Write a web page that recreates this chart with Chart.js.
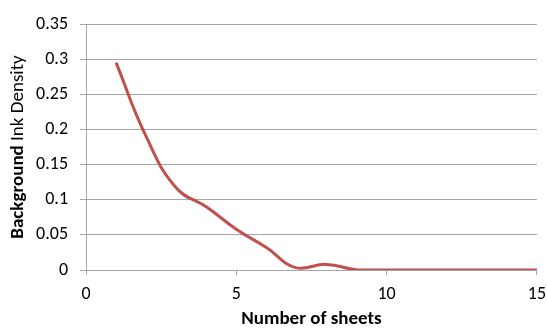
<!DOCTYPE html>
<html lang="en">
<head>
  <meta charset="UTF-8">
  <title>Background Ink Density</title>
  <script src="https://cdn.jsdelivr.net/npm/chart.js"></script>
  <style>
    body { margin: 0; background: #fff; overflow: hidden; }
  </style>
</head>
<body>
  <!-- a bit wider than the window so the plot can run right up to the "15" label -->
  <canvas id="chart" width="555" height="331"></canvas>
  <script>
    const sheets = [1, 2, 3, 4, 5, 6, 7, 8, 9, 10, 11, 12, 13, 14, 15];
    const density = [0.295, 0.19, 0.117, 0.09, 0.058, 0.032, 0.003, 0.008, 0.0005, 0, 0, 0, 0, 0, 0];
    const xTicks = [0, 5, 10, 15];
    const yTitleBold = 'Background';
    const yTitleRest = ' Ink Density';

    const font = "Carlito, Lato, 'Liberation Sans', sans-serif";
    const gridColor = '#a6a6a6';

    // y title has a bold word and a normal part, so draw it by hand
    const yTitle = {
      id: 'yTitle',
      afterDraw(chart) {
        const ctx = chart.ctx;
        const area = chart.chartArea;
        ctx.save();
        ctx.translate(18, (area.top + area.bottom) / 2);
        ctx.rotate(-Math.PI / 2);
        ctx.fillStyle = '#000';
        ctx.textBaseline = 'middle';
        ctx.font = 'bold 19px ' + font;
        const w1 = ctx.measureText(yTitleBold).width;
        ctx.font = '19px ' + font;
        const w2 = ctx.measureText(yTitleRest).width;
        let x = -(w1 + w2) / 2;
        ctx.font = 'bold 19px ' + font;
        ctx.fillText(yTitleBold, x, 0);
        ctx.font = '19px ' + font;
        ctx.fillText(yTitleRest, x + w1, 0);
        ctx.restore();
      }
    };

    new Chart(document.getElementById('chart'), {
      type: 'line',
      data: {
        datasets: [{
          data: sheets.map((s, i) => ({ x: s, y: density[i] })),
          borderColor: '#c0504d',
          borderWidth: 3,
          pointRadius: 0,
          tension: 0.45,
          fill: false
        }]
      },
      options: {
        responsive: false,
        animation: false,
        devicePixelRatio: 1,
        layout: { padding: { top: 24, right: 0, left: 0, bottom: 0 } },
        plugins: { legend: { display: false }, tooltip: { enabled: false } },
        scales: {
          x: {
            type: 'linear',
            min: 0,
            max: 15,
            afterBuildTicks(scale) { scale.ticks = xTicks.map(v => ({ value: v })); },
            afterFit(scale) { scale.height = 61; },
            grid: { drawOnChartArea: false, color: gridColor, tickLength: 5 },
            border: { color: gridColor },
            ticks: { color: '#000', font: { family: font, size: 18 }, padding: 9, maxRotation: 0 },
            title: { display: true, text: 'Number of sheets', color: '#000', font: { family: font, size: 19, weight: 'bold' }, padding: { top: 2, bottom: 0 } }
          },
          y: {
            min: 0,
            max: 0.35,
            afterFit(scale) { scale.width = 86; },
            grid: { color: gridColor, tickLength: 6 },
            border: { color: gridColor },
            ticks: { stepSize: 0.05, color: '#000', font: { family: font, size: 18 }, padding: 12,
              callback: v => Number(v.toFixed(2)).toString() }
          }
        }
      },
      plugins: [yTitle]
    });
  </script>
</body>
</html>
